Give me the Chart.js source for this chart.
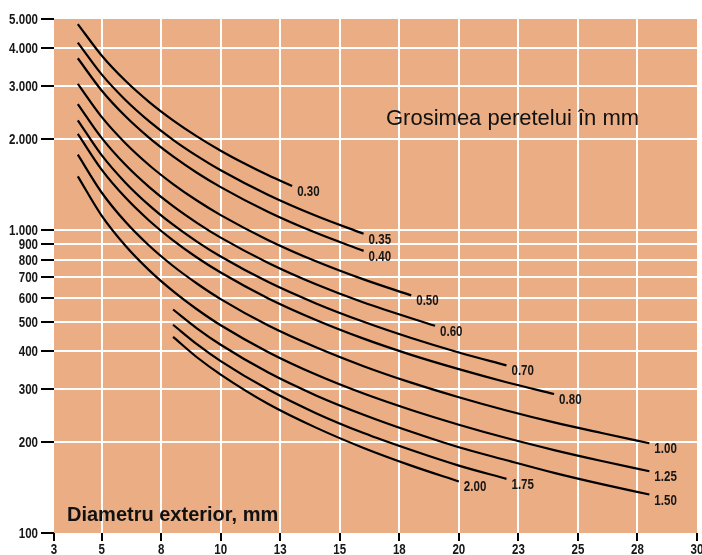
<!DOCTYPE html>
<html>
<head>
<meta charset="utf-8">
<script src="https://cdn.jsdelivr.net/npm/chart.js@4.4.1/dist/chart.umd.min.js"></script>
<style>
  html, body { margin: 0; padding: 0; background: #fff; }
  #wrap { width: 702px; height: 555px; }
</style>
</head>
<body>
<div id="wrap"><canvas id="chart" width="702" height="555"></canvas></div>
<script>
// Grosimea peretelui: curbe pe diametru exterior (scara logaritmica pe Y)

const xTicks = [3, 5, 7.5, 10, 12.5, 15, 17.5, 20, 22.5, 25, 27.5, 30];
const xTickLabels = ['3', '5', '8', '10', '13', '15', '18', '20', '23', '25', '28', '30'];
const yTicks = [100, 200, 300, 400, 500, 600, 700, 800, 900, 1000, 2000, 3000, 4000, 5000];
const yTickLabels = ['100', '200', '300', '400', '500', '600', '700', '800', '900',
  '1.000', '2.000', '3.000', '4.000', '5.000'];

const wallLabels = ['0.30', '0.35', '0.40', '0.50', '0.60', '0.70', '0.80', '1.00', '1.25', '1.50', '1.75', '2.00'];

const d030 = [4, 5, 6, 7, 8, 9, 10, 11, 12, 13];
const v030 = [4811, 3787, 3123, 2657, 2312, 2046, 1835, 1664, 1521, 1402];
const d035 = [4, 5, 6, 7, 8, 9, 10, 12, 14, 16];
const v035 = [4180, 3281, 2700, 2294, 1994, 1764, 1581, 1310, 1118, 975];
const d040 = [4, 5, 6, 7, 8, 9, 10, 12, 14, 16];
const v040 = [3708, 2902, 2384, 2023, 1757, 1552, 1391, 1151, 982, 856];
const d050 = [4, 5, 6, 7, 8, 9, 10, 12, 14, 16, 18];
const v050 = [3051, 2373, 1942, 1643, 1424, 1256, 1124, 929, 791, 689, 610];
const d060 = [4, 5, 6, 7, 8, 9, 10, 12, 14, 16, 19];
const v060 = [2618, 2023, 1648, 1391, 1203, 1060, 947, 781, 664, 578, 484];
const d070 = [4, 5, 6, 7, 8, 9, 10, 12, 14, 16, 18, 20, 22];
const v070 = [2312, 1774, 1439, 1211, 1045, 919, 820, 675, 574, 499, 441, 395, 358];
const d080 = [4, 5, 6, 7, 8, 9, 10, 12, 14, 16, 18, 20, 22, 24];
const v080 = [2086, 1589, 1284, 1077, 927, 814, 726, 596, 506, 439, 388, 348, 315, 288];
const d100 = [4, 5, 6, 7, 8, 9, 10, 12, 14, 16, 18, 20, 22, 24, 26, 28];
const v100 = [1780, 1335, 1068, 890, 763, 668, 593, 485, 411, 356, 314, 281, 254, 232, 214, 198];
const d125 = [4, 5, 6, 7, 8, 9, 10, 12, 14, 16, 18, 20, 22, 24, 26, 28];
const v125 = [1510, 1120, 890, 738, 630, 549, 486, 396, 334, 289, 255, 228, 206, 188, 173, 160];
const d150 = [8, 9, 10, 12, 14, 16, 18, 20, 22, 24, 26, 28];
const v150 = [548, 475, 419, 339, 285, 246, 216, 192, 174, 158, 145, 134];
const d175 = [8, 9, 10, 12, 14, 16, 18, 20, 22];
const v175 = [488, 421, 370, 298, 249, 214, 188, 167, 151];
const d200 = [8, 9, 10, 12, 14, 16, 18, 20];
const v200 = [445, 381, 334, 267, 223, 191, 167, 148];

const seriesX = [d030, d035, d040, d050, d060, d070, d080, d100, d125, d150, d175, d200];
const seriesY = [v030, v035, v040, v050, v060, v070, v080, v100, v125, v150, v175, v200];

const PLOT_BG = '#EBAD83';
const INK = '#161616';
const SANS = "'Liberation Sans', Arial, Helvetica, sans-serif";
const NUM_FONT = `bold 15px ${SANS}`;
const SQUEEZE = 0.77; // imita un font "narrow"

const toPoints = (xs, ys) => xs.map((x, i) => ({ x, y: ys[i] }));

const datasets = wallLabels.map((label, i) => ({
  label,
  data: toPoints(seriesX[i], seriesY[i]),
  borderColor: '#000',
  borderWidth: 2.2,
  pointRadius: 0,
  cubicInterpolationMode: 'monotone',
  fill: false,
}));

function narrowText(ctx, text, x, y, align) {
  ctx.save();
  ctx.translate(x, y);
  ctx.scale(SQUEEZE, 1);
  ctx.textAlign = align;
  ctx.fillText(text, 0, 0);
  ctx.restore();
}

const plotBackground = {
  id: 'plotBackground',
  beforeDraw(chart) {
    const { ctx, chartArea: a } = chart;
    ctx.save();
    ctx.fillStyle = PLOT_BG;
    ctx.fillRect(a.left, a.top, a.right - a.left, a.bottom - a.top);
    ctx.restore();
  },
};

const axisLabels = {
  id: 'axisLabels',
  afterDraw(chart) {
    const { ctx, chartArea: a, scales } = chart;
    ctx.save();
    ctx.fillStyle = INK;
    ctx.font = NUM_FONT;
    ctx.textBaseline = 'alphabetic';
    xTicks.forEach((v, i) => {
      narrowText(ctx, xTickLabels[i], scales.x.getPixelForValue(v), a.bottom + 21, 'center');
    });
    yTicks.forEach((v, i) => {
      narrowText(ctx, yTickLabels[i], a.left - 16, scales.y.getPixelForValue(v) + 5, 'right');
    });
    ctx.restore();
  },
};

const curveLabels = {
  id: 'curveLabels',
  afterDatasetsDraw(chart) {
    const { ctx } = chart;
    ctx.save();
    ctx.fillStyle = INK;
    ctx.font = NUM_FONT;
    ctx.textBaseline = 'alphabetic';
    chart.data.datasets.forEach((ds, i) => {
      const pts = chart.getDatasetMeta(i).data;
      const last = pts[pts.length - 1];
      narrowText(ctx, ds.label, last.x + 5, last.y + 10, 'left');
    });
    ctx.restore();
  },
};

const captions = {
  id: 'captions',
  afterDraw(chart) {
    const { ctx, chartArea: a } = chart;
    ctx.save();
    ctx.fillStyle = '#111';
    ctx.textAlign = 'left';
    ctx.textBaseline = 'alphabetic';
    ctx.font = `22px ${SANS}`;
    ctx.fillText('Grosimea peretelui în mm', a.left + 332, a.top + 106);
    ctx.font = `bold 20px ${SANS}`;
    ctx.fillText('Diametru exterior, mm', a.left + 13, a.bottom - 12);
    ctx.restore();
  },
};

const edgeAware = (scaleId) => (context) => {
  const scale = context.chart.scales[scaleId];
  const v = context.tick && context.tick.value;
  return (v === scale.min || v === scale.max) ? 'rgba(0,0,0,0)' : '#ffffff';
};

new Chart(document.getElementById('chart'), {
  type: 'line',
  data: { datasets },
  options: {
    responsive: false,
    animation: false,
    layout: { padding: { top: 19, right: 5, left: 0, bottom: 0 } },
    plugins: {
      legend: { display: false },
      tooltip: { enabled: false },
    },
    scales: {
      x: {
        type: 'linear',
        min: 3,
        max: 30,
        afterBuildTicks: (scale) => { scale.ticks = xTicks.map((value) => ({ value })); },
        afterFit: (scale) => { scale.height = 22; scale.paddingLeft = 0; scale.paddingRight = 0; },
        border: { display: false },
        grid: {
          color: edgeAware('x'),
          lineWidth: 2,
          tickColor: '#000',
          tickLength: 8,
          tickWidth: 2,
        },
        ticks: { display: false },
      },
      y: {
        type: 'logarithmic',
        min: 100,
        max: 5000,
        afterBuildTicks: (scale) => { scale.ticks = yTicks.map((value) => ({ value })); },
        afterFit: (scale) => { scale.width = 54; scale.paddingTop = 0; scale.paddingBottom = 0; },
        border: { display: false },
        grid: {
          color: edgeAware('y'),
          lineWidth: 2,
          tickColor: '#000',
          tickLength: 13,
          tickWidth: 2,
        },
        ticks: { display: false },
      },
    },
  },
  plugins: [plotBackground, curveLabels, axisLabels, captions],
});
</script>
</body>
</html>
